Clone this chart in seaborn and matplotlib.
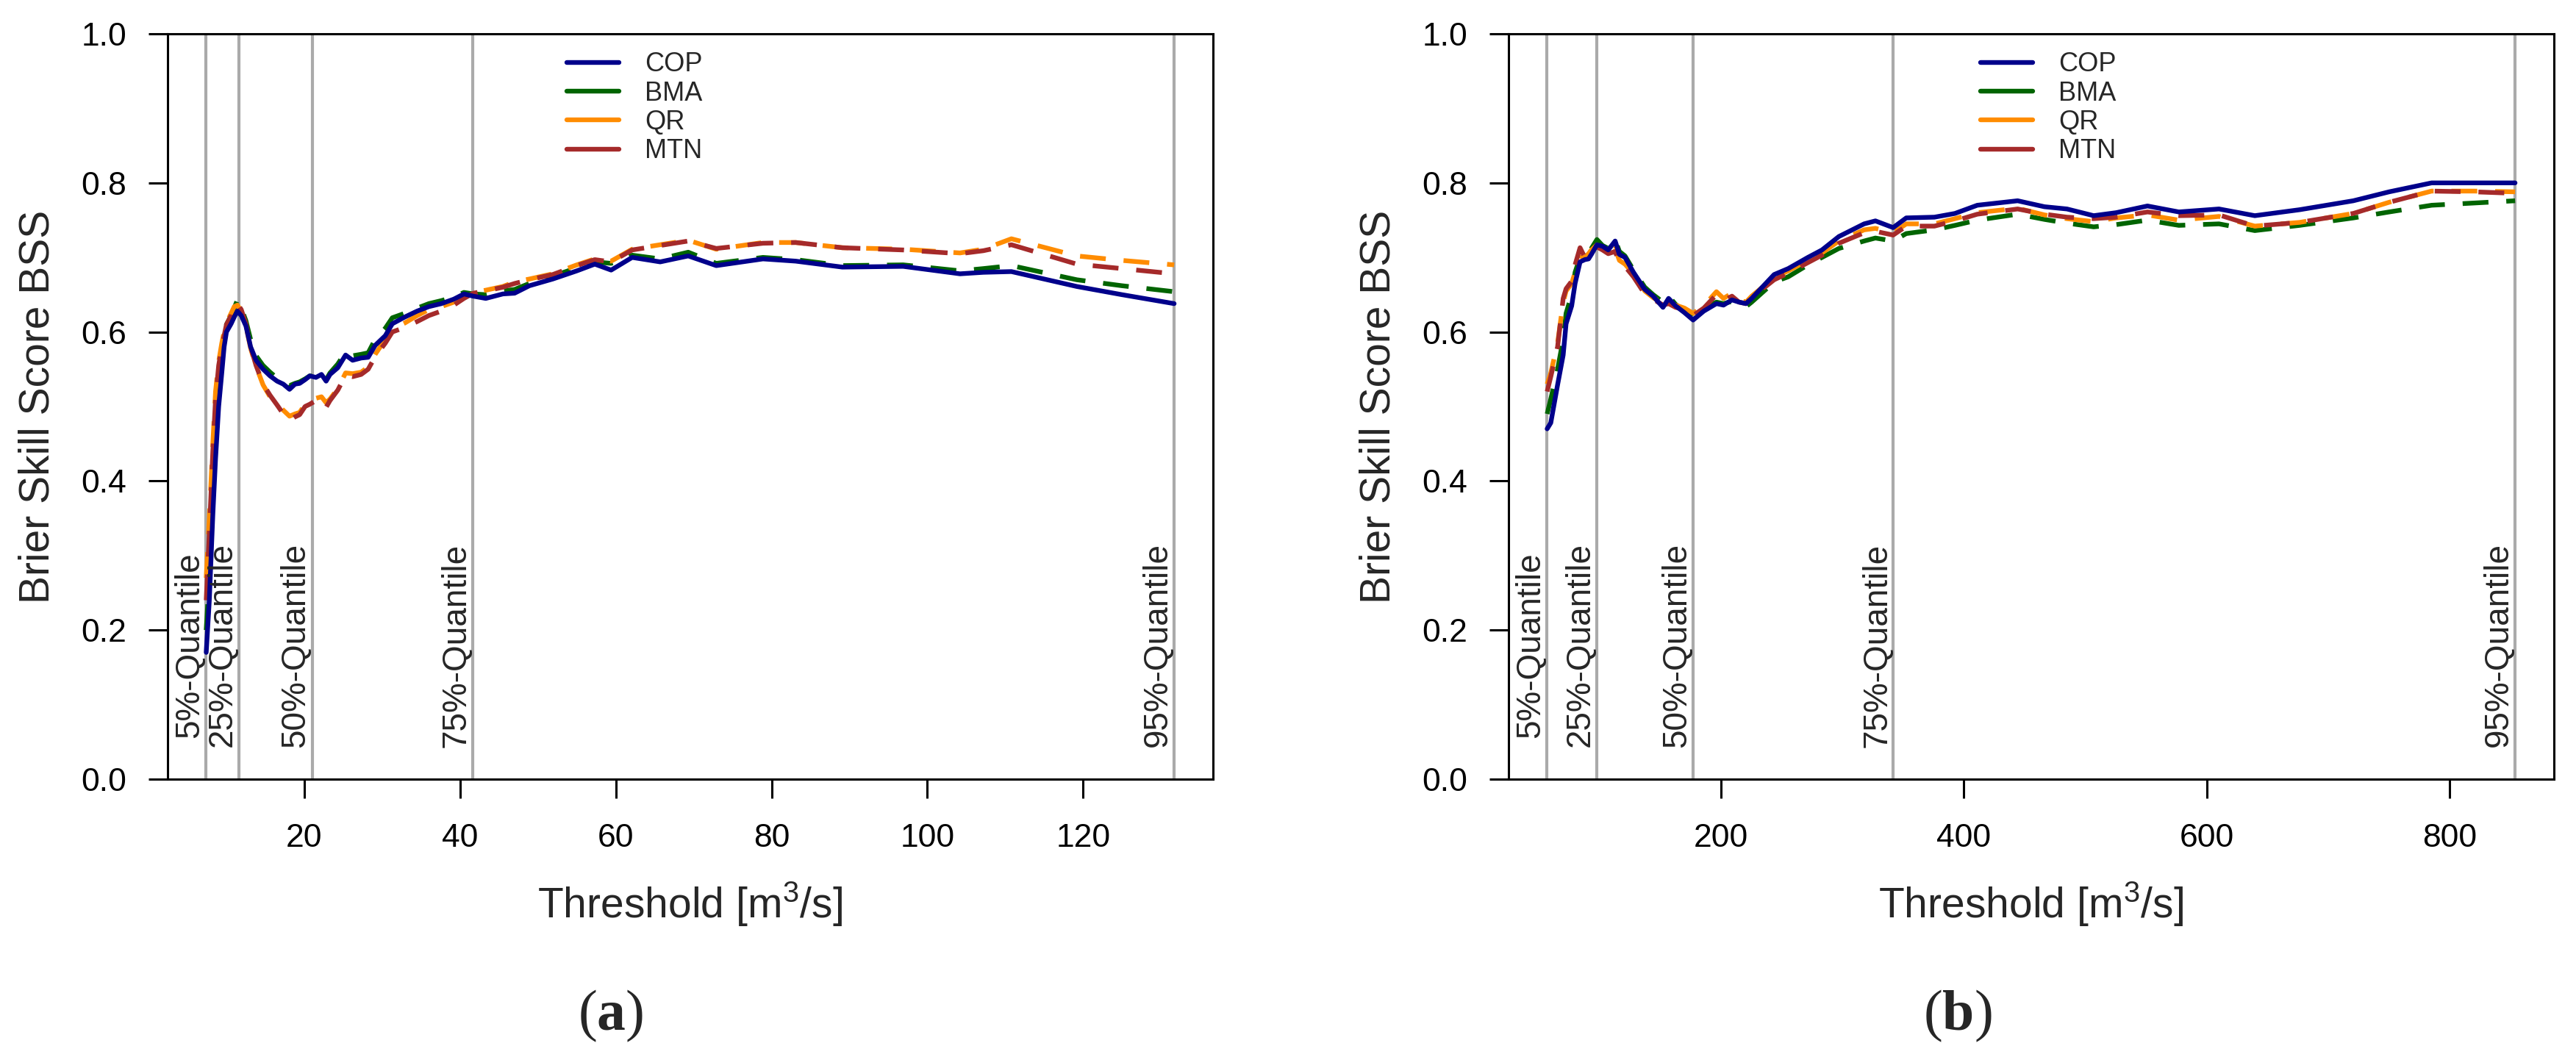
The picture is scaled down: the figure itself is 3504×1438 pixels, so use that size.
import matplotlib
matplotlib.use("Agg")
import matplotlib.pyplot as plt
from matplotlib.lines import Line2D
import seaborn as sns
import pandas as pd

# Style (R-like base graphics look)
sns.set_style("ticks")
plt.rcParams['font.family'] = ['Liberation Sans', 'DejaVu Sans']
plt.rcParams['mathtext.fontset'] = 'custom'
plt.rcParams['mathtext.rm'] = 'Liberation Sans'
plt.rcParams['mathtext.bf'] = 'Liberation Serif:bold'
plt.rcParams['mathtext.default'] = 'regular'

# ==========================================
# DATA
# ==========================================
methods = ['COP', 'BMA', 'QR', 'MTN']
quantile_names = ['5%-Quantile', '25%-Quantile', '50%-Quantile', '75%-Quantile', '95%-Quantile']

# Panel (a): thresholds [m3/s] and Brier skill score per method
a_quantiles = [7.4, 11.6, 21.0, 41.6, 131.7]
a_x = [7.4, 7.8, 8.25, 8.6, 9.0, 9.4, 9.7, 10.0, 10.6, 11.0,
       11.4, 11.9, 12.5, 13.1, 13.8, 14.7, 15.6, 16.5, 17.3, 18.1,
       18.8, 19.4, 20.1, 20.7, 21.5, 22.2, 22.8, 23.3, 24.3, 25.3,
       26.2, 27.3, 28.2, 29.1, 30.4, 31.3, 32.9, 34.5, 36.0, 37.6,
       39.2, 40.5, 41.7, 43.3, 45.5, 47.0, 48.9, 51.9, 55.0, 57.3,
       59.4, 62.1, 65.7, 69.3, 72.9, 78.9, 83.1, 89.1, 96.9, 104.2,
       107.2, 110.8, 119.2, 125.0, 131.7]
a_cop = [0.170, 0.240, 0.355, 0.430, 0.500, 0.545, 0.580, 0.600, 0.611, 0.620,
         0.628, 0.622, 0.608, 0.580, 0.562, 0.550, 0.541, 0.534, 0.530, 0.523,
         0.530, 0.531, 0.536, 0.541, 0.539, 0.543, 0.534, 0.543, 0.552, 0.569,
         0.562, 0.565, 0.566, 0.582, 0.595, 0.611, 0.620, 0.628, 0.634, 0.638,
         0.644, 0.651, 0.648, 0.645, 0.651, 0.652, 0.662, 0.671, 0.682, 0.691,
         0.683, 0.700, 0.694, 0.702, 0.689, 0.698, 0.695, 0.687, 0.688, 0.678,
         0.680, 0.681, 0.661, 0.650, 0.638]
a_bma = [0.200, 0.270, 0.380, 0.460, 0.530, 0.570, 0.595, 0.610, 0.622, 0.632,
         0.643, 0.632, 0.615, 0.590, 0.568, 0.555, 0.546, 0.538, 0.533, 0.528,
         0.531, 0.533, 0.537, 0.541, 0.540, 0.545, 0.536, 0.545, 0.557, 0.573,
         0.568, 0.570, 0.572, 0.590, 0.605, 0.619, 0.625, 0.632, 0.638, 0.642,
         0.647, 0.653, 0.651, 0.650, 0.655, 0.657, 0.665, 0.675, 0.686, 0.694,
         0.692, 0.703, 0.698, 0.707, 0.692, 0.700, 0.697, 0.689, 0.690, 0.682,
         0.685, 0.689, 0.670, 0.662, 0.654]
a_qr = [0.270, 0.350, 0.450, 0.520, 0.560, 0.585, 0.600, 0.612, 0.625, 0.634,
        0.636, 0.628, 0.608, 0.578, 0.554, 0.529, 0.513, 0.503, 0.495, 0.487,
        0.490, 0.492, 0.503, 0.508, 0.511, 0.513, 0.505, 0.510, 0.524, 0.545,
        0.544, 0.546, 0.553, 0.570, 0.590, 0.604, 0.612, 0.622, 0.630, 0.634,
        0.640, 0.647, 0.653, 0.656, 0.661, 0.667, 0.671, 0.678, 0.690, 0.698,
        0.695, 0.711, 0.717, 0.723, 0.711, 0.720, 0.720, 0.713, 0.711, 0.706,
        0.711, 0.725, 0.702, 0.696, 0.690]
a_mtn = [0.240, 0.330, 0.440, 0.510, 0.555, 0.580, 0.595, 0.610, 0.622, 0.636,
         0.638, 0.630, 0.611, 0.580, 0.555, 0.530, 0.515, 0.502, 0.490, 0.481,
         0.486, 0.489, 0.500, 0.503, 0.508, 0.509, 0.499, 0.508, 0.522, 0.542,
         0.540, 0.543, 0.550, 0.567, 0.585, 0.600, 0.606, 0.614, 0.622, 0.628,
         0.636, 0.645, 0.652, 0.655, 0.660, 0.665, 0.670, 0.677, 0.689, 0.697,
         0.694, 0.710, 0.716, 0.722, 0.712, 0.719, 0.720, 0.713, 0.710, 0.705,
         0.709, 0.717, 0.691, 0.685, 0.678]

# Panel (b)
b_quantiles = [57, 98, 177, 342, 854]
b_x = [57, 60, 65.6, 70.2, 72.6, 77.2, 80.0, 84.1, 88.0, 91.1,
       93.4, 98.0, 102.6, 107.3, 113.0, 116.5, 121.1, 128.1, 137.4, 144.3,
       152.4, 157.0, 162.8, 170.0, 177.2, 186.0, 196.4, 202.2, 209.2, 215.0,
       220.8, 225.4, 243.9, 255.5, 271.7, 283.3, 297.2, 318.0, 327.3, 341.9,
       352.7, 375.9, 392.8, 411.2, 444.4, 466.5, 485.0, 507.0, 525.5, 551.3,
       577.1, 610.2, 639.7, 676.6, 720.8, 750.3, 785.3, 820.3, 854.0]
b_cop = [0.470, 0.478, 0.529, 0.569, 0.611, 0.635, 0.665, 0.694, 0.697, 0.698,
         0.704, 0.717, 0.715, 0.710, 0.722, 0.704, 0.700, 0.680, 0.657, 0.648,
         0.633, 0.645, 0.635, 0.626, 0.616, 0.628, 0.638, 0.636, 0.643, 0.640,
         0.638, 0.645, 0.677, 0.685, 0.700, 0.710, 0.728, 0.745, 0.749, 0.740,
         0.753, 0.754, 0.759, 0.770, 0.776, 0.768, 0.765, 0.756, 0.760, 0.769,
         0.761, 0.765, 0.756, 0.764, 0.776, 0.788, 0.800, 0.800, 0.800]
b_bma = [0.490, 0.510, 0.550, 0.590, 0.625, 0.650, 0.680, 0.700, 0.703, 0.706,
         0.712, 0.724, 0.716, 0.712, 0.724, 0.708, 0.702, 0.683, 0.660, 0.650,
         0.640, 0.648, 0.637, 0.628, 0.620, 0.632, 0.640, 0.638, 0.641, 0.638,
         0.634, 0.640, 0.667, 0.674, 0.690, 0.700, 0.712, 0.722, 0.726, 0.722,
         0.732, 0.737, 0.743, 0.750, 0.758, 0.751, 0.746, 0.741, 0.744, 0.750,
         0.743, 0.745, 0.736, 0.743, 0.753, 0.761, 0.770, 0.773, 0.776]
b_qr = [0.530, 0.545, 0.585, 0.640, 0.655, 0.665, 0.680, 0.700, 0.700, 0.705,
        0.710, 0.717, 0.712, 0.707, 0.712, 0.696, 0.691, 0.678, 0.655, 0.646,
        0.638, 0.640, 0.636, 0.632, 0.625, 0.635, 0.654, 0.645, 0.652, 0.643,
        0.640, 0.648, 0.673, 0.682, 0.696, 0.706, 0.722, 0.737, 0.739, 0.733,
        0.745, 0.745, 0.752, 0.760, 0.766, 0.757, 0.752, 0.748, 0.753, 0.757,
        0.750, 0.755, 0.742, 0.747, 0.759, 0.774, 0.789, 0.789, 0.788]
b_mtn = [0.520, 0.540, 0.580, 0.645, 0.658, 0.668, 0.690, 0.713, 0.700, 0.703,
         0.708, 0.714, 0.710, 0.705, 0.708, 0.693, 0.688, 0.674, 0.651, 0.644,
         0.636, 0.638, 0.633, 0.630, 0.622, 0.632, 0.650, 0.642, 0.648, 0.640,
         0.638, 0.646, 0.670, 0.679, 0.693, 0.703, 0.719, 0.733, 0.735, 0.730,
         0.742, 0.742, 0.749, 0.758, 0.765, 0.758, 0.754, 0.752, 0.754, 0.761,
         0.756, 0.757, 0.742, 0.747, 0.759, 0.774, 0.789, 0.788, 0.786]

a_xticks = [20, 40, 60, 80, 100, 120]
b_xticks = [200, 400, 600, 800]
y_ticks = [0.0, 0.2, 0.4, 0.6, 0.8, 1.0]
y_ticklabels = ['0.0', '0.2', '0.4', '0.6', '0.8', '1.0']

# ==========================================
# STYLE
# ==========================================
colors = {'COP': '#00008B', 'BMA': '#006400', 'QR': '#FF8C00', 'MTN': '#A52A2A'}
dashes = {'COP': '', 'BMA': (5.5, 3.8), 'QR': (5.5, 3.8), 'MTN': (5.5, 3.8)}
draw_order = ['BMA', 'QR', 'MTN', 'COP']
LW = 4.6


def long_frame(x, series):
    rows = []
    for name, vals in zip(methods, series):
        for xi, yi in zip(x, vals):
            rows.append({'threshold': xi, 'bss': yi, 'method': name})
    return pd.DataFrame(rows)


def draw_panel(ax, x, series, quantiles, xticks, legend_x):
    df = long_frame(x, series)
    sns.lineplot(data=df, x='threshold', y='bss', hue='method', style='method',
                 hue_order=draw_order, style_order=draw_order,
                 palette=colors, dashes=dashes, linewidth=LW,
                 estimator=None, legend=False, ax=ax, zorder=3)

    # quantile markers
    for q, name in zip(quantiles, quantile_names):
        ax.axvline(q, color='#aaaaaa', lw=3.0, zorder=1)
        ax.text(q, 0.18, name, rotation=90, ha='right', va='center', fontsize=33)

    # R-style 4% padding on x, exact 0..1 on y
    lo, hi = min(x), max(x)
    pad = 0.04 * (hi - lo)
    ax.set_xlim(lo - pad, hi + pad)
    ax.set_ylim(0, 1)
    ax.set_xticks(xticks)
    ax.set_yticks(y_ticks)
    ax.set_yticklabels(y_ticklabels)

    for s in ax.spines.values():
        s.set_visible(True)
        s.set_color('black')
        s.set_linewidth(2.2)
    ax.tick_params(direction='out', length=19, width=2.2, color='black',
                   labelsize=32, labelcolor='black')
    ax.tick_params(axis='y', pad=21)
    ax.tick_params(axis='x', pad=24)

    ax.set_xlabel(r'Threshold [m$^{3}$/s]', fontsize=41)
    ax.set_ylabel('Brier Skill Score BSS', fontsize=41)
    ax.xaxis.set_label_coords(0.5, -0.135)
    ax.yaxis.set_label_coords(-0.105, 0.5)

    handles = [Line2D([0], [0], color=colors[m], lw=LW) for m in methods]
    ax.legend(handles, methods, loc='upper left', bbox_to_anchor=(legend_x, 0.976),
              frameon=False, fontsize=26, handlelength=1.97, handletextpad=0.97,
              labelspacing=0.12, borderpad=0, borderaxespad=0)


fig = plt.figure(figsize=(35.05, 14.38), dpi=100)
ax_a = fig.add_axes([0.0650, 0.2629, 0.4057, 0.7051])
ax_b = fig.add_axes([0.5854, 0.2629, 0.4057, 0.7051])

draw_panel(ax_a, a_x, [a_cop, a_bma, a_qr, a_mtn], a_quantiles, a_xticks, 0.382)
draw_panel(ax_b, b_x, [b_cop, b_bma, b_qr, b_mtn], b_quantiles, b_xticks, 0.4515)

fig.text(0.2371, 0.039, r'($\mathbf{a}$)', family='Liberation Serif',
         fontsize=56, ha='center', va='center')
fig.text(0.7598, 0.039, r'($\mathbf{b}$)', family='Liberation Serif',
         fontsize=56, ha='center', va='center')

fig.savefig('out.png', dpi=100)
